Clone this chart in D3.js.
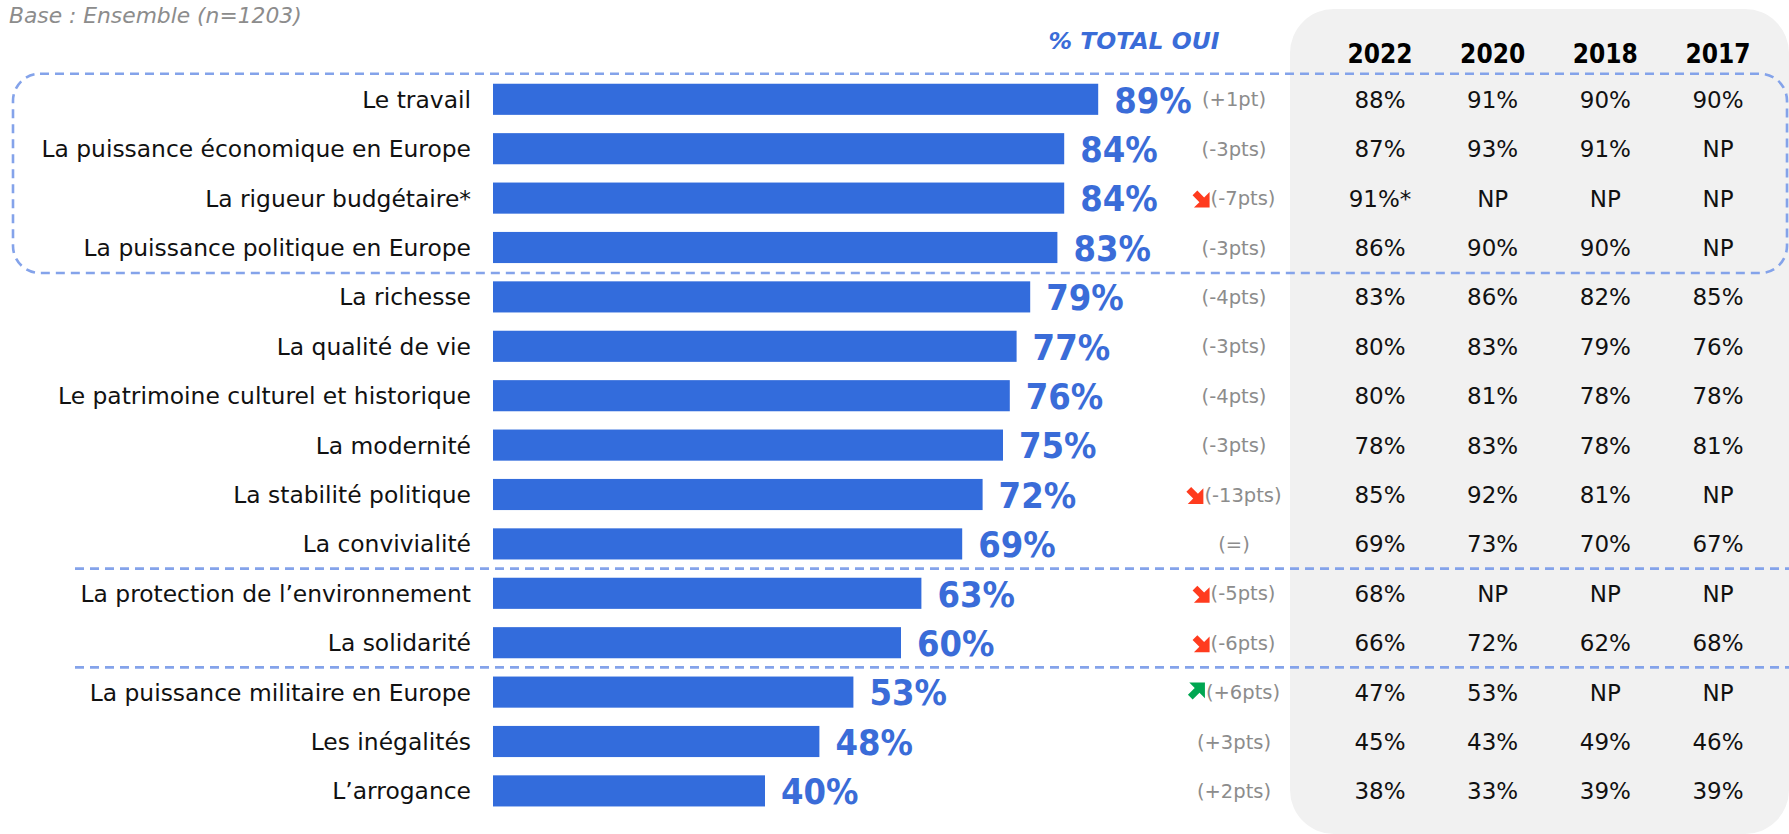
<!DOCTYPE html>
<html>
<head>
<meta charset="utf-8">
<script src="https://cdn.jsdelivr.net/npm/d3@7"></script>
<style>
  html, body { margin: 0; padding: 0; background: #ffffff; }
  svg { display: block; }
</style>
</head>
<body>
<svg id="chart" width="1789" height="834"></svg>
<script>
const categories = [
  "Le travail",
  "La puissance économique en Europe",
  "La rigueur budgétaire*",
  "La puissance politique en Europe",
  "La richesse",
  "La qualité de vie",
  "Le patrimoine culturel et historique",
  "La modernité",
  "La stabilité politique",
  "La convivialité",
  "La protection de l’environnement",
  "La solidarité",
  "La puissance militaire en Europe",
  "Les inégalités",
  "L’arrogance"
];
const values = [89, 84, 84, 83, 79, 77, 76, 75, 72, 69, 63, 60, 53, 48, 40];
const changes = ["(+1pt)", "(-3pts)", "(-7pts)", "(-3pts)", "(-4pts)", "(-3pts)", "(-4pts)", "(-3pts)", "(-13pts)", "(=)", "(-5pts)", "(-6pts)", "(+6pts)", "(+3pts)", "(+2pts)"];
const trends = ["", "", "down", "", "", "", "", "", "down", "", "down", "down", "up", "", ""];
const years = ["2022", "2020", "2018", "2017"];
const v2022 = ["88%", "87%", "91%*", "86%", "83%", "80%", "80%", "78%", "85%", "69%", "68%", "66%", "47%", "45%", "38%"];
const v2020 = ["91%", "93%", "NP", "90%", "86%", "83%", "81%", "83%", "92%", "73%", "NP", "72%", "53%", "43%", "33%"];
const v2018 = ["90%", "91%", "NP", "90%", "82%", "79%", "78%", "78%", "81%", "70%", "NP", "62%", "NP", "49%", "39%"];
const v2017 = ["90%", "NP", "NP", "NP", "85%", "76%", "78%", "81%", "NP", "67%", "NP", "68%", "NP", "46%", "39%"];
const groupBoxRows = [0, 3];       // rows enclosed by rounded dashed box
const separatorsAfter = [9, 11];   // dashed line after these rows
const baseText = "Base : Ensemble (n=1203)";
const measureTitle = "% TOTAL OUI";

const svg = d3.select("#chart");
const W = 1789, H = 834;

const BLUE = "#336cdc";
const LABEL_BLUE = "#3a6cd8";
const DASH = "#84a3ea";
const GREY_TXT = "#8c8c8c";

// Scales
const x = d3.scaleLinear().domain([0, 100]).range([493, 1173]);
const y = d3.scaleBand().domain(categories).range([74.6, 815.6])
  .paddingInner(0.37).paddingOuter(0.185);
const colX = d3.scalePoint().domain(years).range([1380, 1718]);
const tableCols = [v2022, v2020, v2018, v2017];

// Gray panel
svg.append("rect")
  .attr("x", 1290).attr("y", 9)
  .attr("width", W - 1290).attr("height", H - 9)
  .attr("rx", 44).attr("ry", 44)
  .attr("fill", "#f1f1f1");

// Base text
svg.append("text")
  .attr("x", 9).attr("y", 23)
  .attr("font-family", "DejaVu Sans")
  .attr("font-style", "italic")
  .attr("font-size", 21.8)
  .attr("fill", GREY_TXT)
  .text(baseText);

// Title
svg.append("text")
  .attr("x", 1134).attr("y", 49)
  .attr("text-anchor", "middle")
  .attr("font-family", "DejaVu Sans")
  .attr("font-style", "italic")
  .attr("font-weight", "bold")
  .attr("font-size", 23.5)
  .attr("fill", LABEL_BLUE)
  .text(measureTitle);

// Year headers
svg.selectAll("text.year").data(years).join("text")
  .attr("class", "year")
  .attr("x", d => colX(d)).attr("y", 63)
  .attr("text-anchor", "middle")
  .attr("font-family", "DejaVu Sans Condensed")
  .attr("font-weight", "bold")
  .attr("font-size", 26)
  .attr("fill", "#000")
  .text(d => d);

// Rounded dashed box
const bTop = y(categories[groupBoxRows[0]]) - 10;
const bBot = y(categories[groupBoxRows[1]]) + y.bandwidth() + 10;
svg.append("rect")
  .attr("x", 13).attr("y", bTop)
  .attr("width", 1787 - 13).attr("height", bBot - bTop)
  .attr("rx", 27).attr("ry", 27)
  .attr("fill", "none")
  .attr("stroke", DASH).attr("stroke-width", 2.6)
  .attr("stroke-dasharray", "9,6");

// Separators
separatorsAfter.forEach(i => {
  const yy = (y(categories[i]) + y.bandwidth() / 2 + y(categories[i + 1]) + y.bandwidth() / 2) / 2;
  svg.append("line")
    .attr("x1", 75).attr("x2", W)
    .attr("y1", yy).attr("y2", yy)
    .attr("stroke", DASH).attr("stroke-width", 2.6)
    .attr("stroke-dasharray", "9,6");
});

const rows = categories.map((c, i) => ({ c, v: values[i], ch: changes[i], t: trends[i], i }));

// Category labels
svg.selectAll("text.cat").data(rows).join("text")
  .attr("class", "cat")
  .attr("x", 471)
  .attr("y", d => y(d.c) + y.bandwidth() / 2)
  .attr("dy", "0.36em")
  .attr("text-anchor", "end")
  .attr("font-family", "DejaVu Sans")
  .attr("font-size", 23.4)
  .attr("fill", "#111")
  .text(d => d.c);

// Bars
svg.selectAll("rect.bar").data(rows).join("rect")
  .attr("class", "bar")
  .attr("x", x(0))
  .attr("y", d => y(d.c))
  .attr("width", d => x(d.v) - x(0))
  .attr("height", y.bandwidth())
  .attr("fill", BLUE);

// Value labels
svg.selectAll("text.val").data(rows).join("text")
  .attr("class", "val")
  .attr("x", d => x(d.v) + 16)
  .attr("y", d => y(d.c) + y.bandwidth() / 2)
  .attr("dy", "0.37em")
  .attr("font-family", "DejaVu Sans Condensed")
  .attr("font-weight", "bold")
  .attr("font-size", 36)
  .attr("fill", LABEL_BLUE)
  .text(d => d.v + "%");

// Change labels with arrows
const chCenter = 1234;
const arrowSize = 17;
rows.forEach(d => {
  const cy = y(d.c) + y.bandwidth() / 2;
  const t = svg.append("text")
    .attr("y", cy)
    .attr("dy", "0.36em")
    .attr("font-family", "DejaVu Sans")
    .attr("font-size", 19.5)
    .attr("fill", GREY_TXT)
    .text(d.ch);
  const w = t.node().getComputedTextLength();
  if (!d.t) {
    t.attr("x", chCenter).attr("text-anchor", "middle");
  } else {
    const total = arrowSize + 1 + w;
    const x0 = chCenter - total / 2;
    t.attr("x", x0 + arrowSize + 1);
    const s = arrowSize;
    // down-right arrow shape
    const pts = [
      [0, s * 0.28], [s * 0.28, 0], [s * 0.68, s * 0.4],
      [s, s * 0.08], [s, s], [s * 0.08, s], [s * 0.4, s * 0.68]
    ];
    const g = svg.append("g")
      .attr("transform", d.t === "down"
        ? `translate(${x0},${cy - s / 2 + 1})`
        : `translate(${x0},${cy + s / 2 - 1}) scale(1,-1)`);
    g.append("polygon")
      .attr("points", pts.map(p => p.join(",")).join(" "))
      .attr("fill", d.t === "down" ? "#ff3b1e" : "#00a651");
  }
});

// Table values
tableCols.forEach((col, ci) => {
  svg.selectAll("text.tc" + ci).data(col).join("text")
    .attr("class", "tc" + ci)
    .attr("x", colX(years[ci]))
    .attr("y", (d, i) => y(categories[i]) + y.bandwidth() / 2)
    .attr("dy", "0.37em")
    .attr("text-anchor", "middle")
    .attr("font-family", "DejaVu Sans")
    .attr("font-size", 23)
    .attr("fill", "#111")
    .text(d => d);
});
</script>
</body>
</html>
